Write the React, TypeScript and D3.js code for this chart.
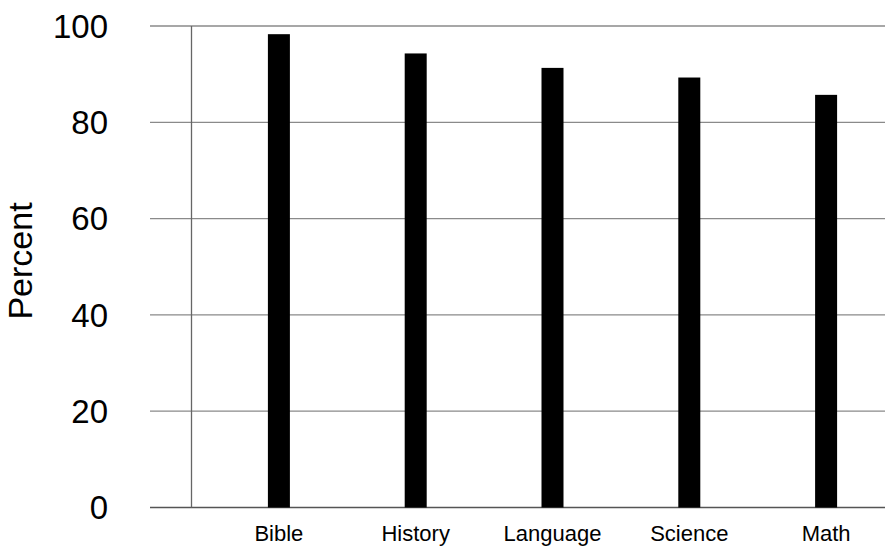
import { useEffect, useRef } from 'react';
import * as d3 from 'd3';

const subjects: string[] = ['Bible', 'History', 'Language', 'Science', 'Math'];
const percents: number[] = [98.3, 94.3, 91.3, 89.3, 85.7];
const yTicks: number[] = [0, 20, 40, 60, 80, 100];

const App: React.FC = () => {
  const svgRef = useRef<SVGSVGElement | null>(null);

  useEffect(() => {
    if (svgRef.current === null) return;

    const width = 885;
    const height = 547;
    const axisX = 191.5;
    const gridStart = 150;

    const svg = d3.select(svgRef.current);
    svg.selectAll('*').remove();
    svg.attr('width', width).attr('height', height);

    svg
      .append('rect')
      .attr('width', width)
      .attr('height', height)
      .attr('fill', '#ffffff');

    // scales
    const x = d3.scalePoint<string>().domain(subjects).range([278.9, 826.1]);
    const y = d3.scaleLinear().domain([0, 100]).range([507.5, 26]);
    const barWidth = 22;

    // horizontal grid lines (they also act as the ticks left of the axis)
    svg
      .selectAll('.grid')
      .data(yTicks)
      .enter()
      .append('line')
      .attr('class', 'grid')
      .attr('x1', gridStart)
      .attr('x2', width)
      .attr('y1', (d) => y(d))
      .attr('y2', (d) => y(d))
      .attr('stroke', (d) => (d === 0 ? '#555555' : '#8a8a8a'))
      .attr('stroke-width', 1.3);

    // vertical axis line
    svg
      .append('line')
      .attr('x1', axisX)
      .attr('x2', axisX)
      .attr('y1', y(100))
      .attr('y2', y(0))
      .attr('stroke', '#666666')
      .attr('stroke-width', 1.3);

    // y tick labels
    svg
      .selectAll('.ytick')
      .data(yTicks)
      .enter()
      .append('text')
      .attr('class', 'ytick')
      .attr('x', 108)
      .attr('y', (d) => y(d))
      .attr('dy', '0.36em')
      .attr('text-anchor', 'end')
      .attr('font-family', 'Liberation Sans, Arial, sans-serif')
      .attr('font-size', 33)
      .attr('fill', '#000')
      .text((d) => d);

    // y axis title
    svg
      .append('text')
      .attr('transform', `translate(32, ${261}) rotate(-90)`)
      .attr('text-anchor', 'middle')
      .attr('font-family', 'Liberation Sans, Arial, sans-serif')
      .attr('font-size', 34)
      .attr('fill', '#000')
      .text('Percent');

    // bars
    svg
      .selectAll('.bar')
      .data(subjects)
      .enter()
      .append('rect')
      .attr('class', 'bar')
      .attr('x', (d) => (x(d) ?? 0) - barWidth / 2)
      .attr('y', (_, i) => y(percents[i]))
      .attr('width', barWidth)
      .attr('height', (_, i) => y(0) - y(percents[i]))
      .attr('fill', '#000000');

    // category labels
    svg
      .selectAll('.xlabel')
      .data(subjects)
      .enter()
      .append('text')
      .attr('class', 'xlabel')
      .attr('x', (d) => x(d) ?? 0)
      .attr('y', 541)
      .attr('text-anchor', 'middle')
      .attr('font-family', 'Liberation Sans, Arial, sans-serif')
      .attr('font-size', 22)
      .attr('fill', '#000')
      .text((d) => d);
  }, []);

  return (
    <svg
      ref={svgRef}
      style={{ position: 'absolute', left: 0, top: 0, display: 'block' }}
    ></svg>
  );
};

export default App;
